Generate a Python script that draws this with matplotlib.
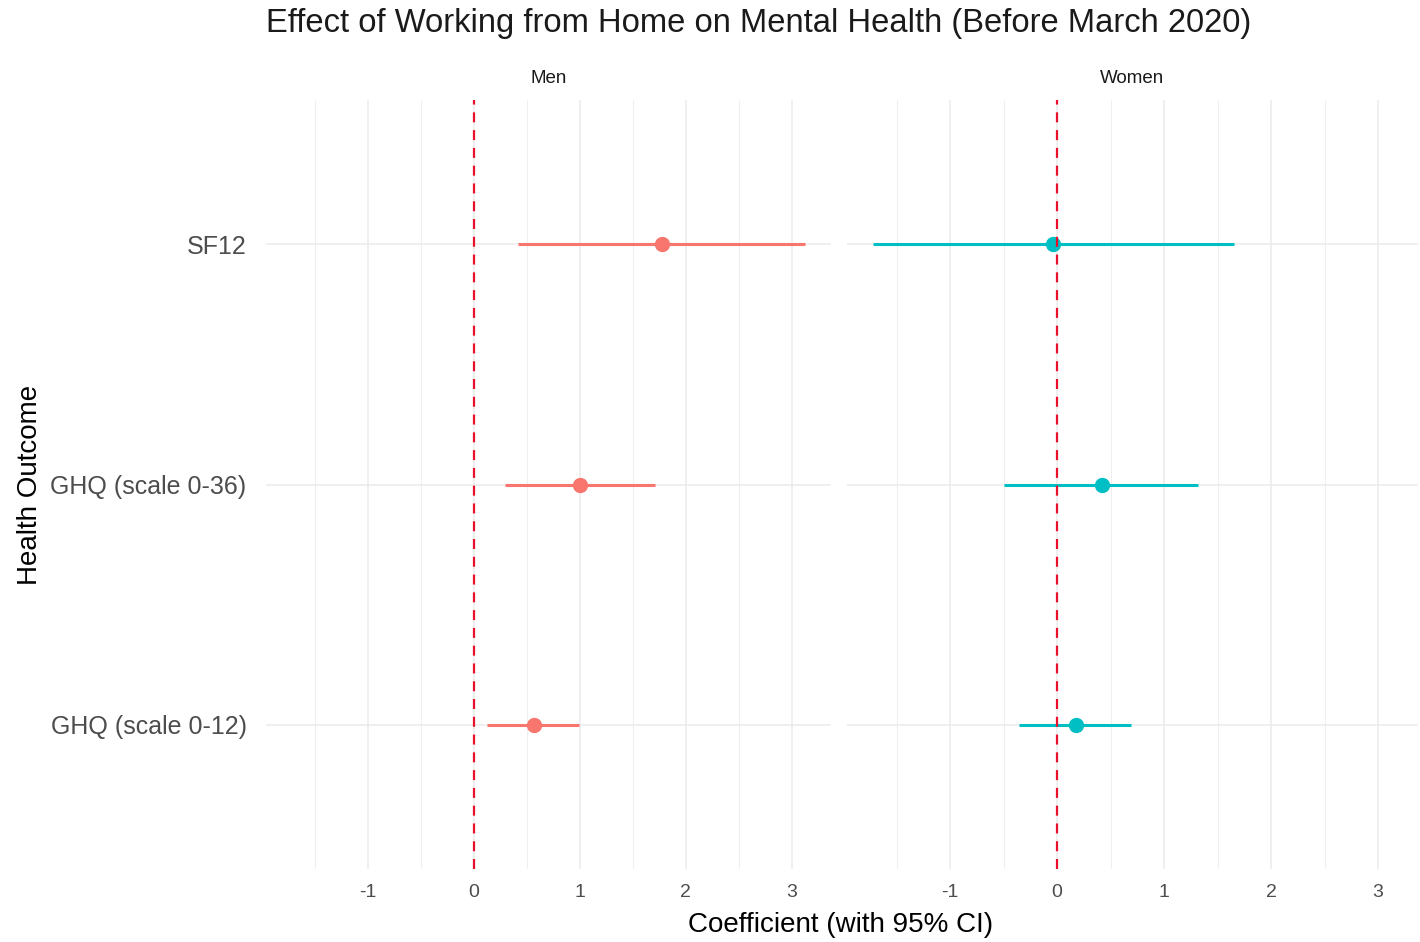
import numpy as np
import matplotlib.pyplot as plt
from matplotlib.ticker import MultipleLocator

plt.rcParams['font.family'] = ['Liberation Sans', 'DejaVu Sans']
plt.rcParams['axes.unicode_minus'] = False

# Data
outcomes = ["GHQ (scale 0-12)", "GHQ (scale 0-36)", "SF12"]
groups = ["Men", "Women"]
colors = {"Men": "#F8766D", "Women": "#00BFC4"}

men_est = [0.57, 1.00, 1.78]
men_lo = [0.12, 0.29, 0.42]
men_hi = [0.99, 1.71, 3.13]

women_est = [0.18, 0.42, -0.04]
women_lo = [-0.36, -0.50, -1.72]
women_hi = [0.69, 1.32, 1.65]

xticks = [-1, 0, 1, 2, 3]

data = {
    "Men": (men_est, men_lo, men_hi),
    "Women": (women_est, women_lo, women_hi),
}

fig = plt.figure(figsize=(14.2, 9.42), dpi=100)
bottom, top = 0.0775, 0.8938
panels = {"Men": (0.1873, 0.5852), "Women": (0.5965, 0.9986)}

all_lo = min(men_lo + women_lo)
all_hi = max(men_hi + women_hi)
pad = 0.05 * (all_hi - all_lo)
xlim = (all_lo - pad, all_hi + pad)

y = np.arange(1, len(outcomes) + 1)

for i, g in enumerate(groups):
    l, r = panels[g]
    ax = fig.add_axes([l, bottom, r - l, top - bottom])
    est, lo, hi = data[g]
    ax.hlines(y, lo, hi, color=colors[g], linewidth=2.2, zorder=3)
    ax.plot(est, y, 'o', color=colors[g], markersize=10, zorder=4)
    ax.axvline(0, color='#E8102A', linestyle=(0, (4.5, 3.5)), linewidth=1.6, zorder=5)

    ax.set_xlim(*xlim)
    ax.set_ylim(0.4, len(outcomes) + 0.6)
    ax.set_xticks(xticks)
    ax.xaxis.set_minor_locator(MultipleLocator(0.5))
    ax.set_yticks(y)
    ax.grid(which='major', color='#EBEBEB', linewidth=1.1, zorder=0)
    ax.grid(which='minor', axis='x', color='#EFEFEF', linewidth=0.8, zorder=0)
    ax.set_axisbelow(True)
    for s in ax.spines.values():
        s.set_visible(False)
    ax.tick_params(which='both', length=0)
    ax.tick_params(axis='x', labelsize=14, labelcolor='#4D4D4D', pad=11)
    if i == 0:
        ax.set_yticklabels(outcomes, fontsize=18, color='#4D4D4D')
        ax.tick_params(axis='y', pad=14)
    else:
        ax.set_yticklabels([])
    ax.set_title(g, fontsize=13.5, color='#1A1A1A', pad=12)

fig.text(0.1873, 0.975, "Effect of Working from Home on Mental Health (Before March 2020)",
         fontsize=23.6, color='#1A1A1A', ha='left', va='center')
fig.text(0.592, 0.018, "Coefficient (with 95% CI)", fontsize=20, color='black',
         ha='center', va='center')
fig.text(0.021, (bottom + top) / 2, "Health Outcome", fontsize=20, color='black',
         ha='center', va='center', rotation=90)

fig.savefig("out.png", dpi=100)
